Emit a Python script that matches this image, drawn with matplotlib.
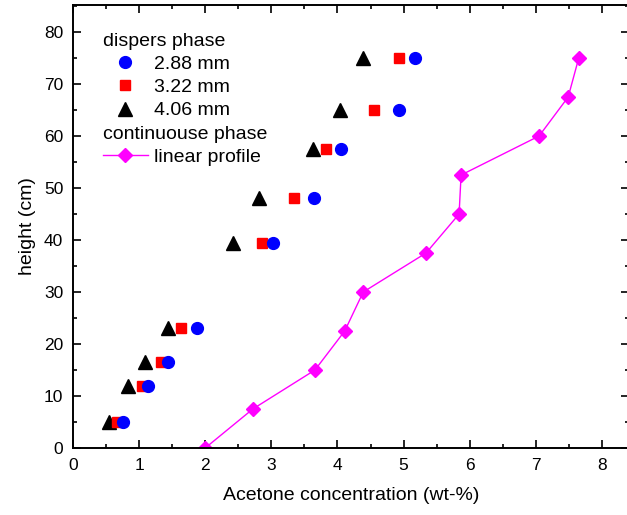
import matplotlib
matplotlib.use("Agg")
import matplotlib.pyplot as plt
from matplotlib.lines import Line2D
from matplotlib.ticker import MultipleLocator

plt.rcParams["font.family"] = ["Liberation Sans", "DejaVu Sans"]

# -----------------------------
# данные
# -----------------------------
heights_disp = [5, 12, 16.5, 23, 39.5, 48, 57.5, 65, 75]
conc_288 = [0.76, 1.13, 1.44, 1.87, 3.03, 3.65, 4.05, 4.93, 5.17]
conc_322 = [0.66, 1.04, 1.33, 1.63, 2.86, 3.34, 3.83, 4.55, 4.93]
conc_406 = [0.55, 0.83, 1.09, 1.44, 2.42, 2.81, 3.63, 4.04, 4.39]

heights_cont = [0, 7.5, 15, 22.5, 30, 37.5, 45, 52.5, 60, 67.5, 75]
conc_linear = [2.0, 2.72, 3.66, 4.11, 4.39, 5.34, 5.84, 5.87, 7.05, 7.49, 7.65]

# -----------------------------
# график
# -----------------------------
fig = plt.figure(figsize=(6.27, 5.15), dpi=100)
ax = fig.add_axes([73 / 627, 1 - 448 / 515, 556 / 627, 443 / 515])

ax.plot(conc_linear, heights_cont, color="#ff00ff", lw=1.0, marker="D",
        ms=7.5, mec="#ff00ff", mfc="#ff00ff", zorder=2)
ax.plot(conc_406, heights_disp, ls="none", marker="^", ms=9.5, color="black", zorder=3)
ax.plot(conc_322, heights_disp, ls="none", marker="s", ms=7.5, color="#ff0000", zorder=3)
ax.plot(conc_288, heights_disp, ls="none", marker="o", ms=8.5, color="#0000ff", zorder=3)

ax.set_xlim(0, 8.41)
ax.set_ylim(0, 85.2)
ax.xaxis.set_major_locator(MultipleLocator(1))
ax.xaxis.set_minor_locator(MultipleLocator(0.5))
ax.yaxis.set_major_locator(MultipleLocator(10))
ax.yaxis.set_minor_locator(MultipleLocator(5))
ax.tick_params(which="both", direction="in", top=True, right=True, labelsize=12.5, width=1.2)
ax.tick_params(which="major", length=6, pad=7)
ax.tick_params(which="minor", length=3)
for sp in ax.spines.values():
    sp.set_linewidth(1.4)

ax.set_xlabel("Acetone concentration (wt-%)", fontsize=14, labelpad=10)
ax.set_ylabel("height (cm)", fontsize=14, labelpad=6)

# легенда с заголовками групп
blank = Line2D([], [], ls="none")
handles = [
    blank,
    Line2D([], [], ls="none", marker="o", ms=8.5, color="#0000ff"),
    Line2D([], [], ls="none", marker="s", ms=7.5, color="#ff0000"),
    Line2D([], [], ls="none", marker="^", ms=9.5, color="black"),
    blank,
    Line2D([], [], color="#ff00ff", lw=1.0, marker="D", ms=7.5),
]
labels = ["dispers phase", "2.88 mm", "3.22 mm", "4.06 mm",
          "continuouse phase", "linear profile"]
hl, hp, fs = 2.3, 0.3, 14
leg = ax.legend(handles, labels, loc="upper left", bbox_to_anchor=(0.054, 0.939),
                frameon=False, fontsize=fs, borderpad=0, borderaxespad=0,
                handlelength=hl, handletextpad=hp, labelspacing=0.29)
shift = (hl + hp) * fs * fig.dpi / 72
for i in (0, 4):
    leg.get_texts()[i].set_x(-shift)

fig.savefig("out.png", dpi=100)
